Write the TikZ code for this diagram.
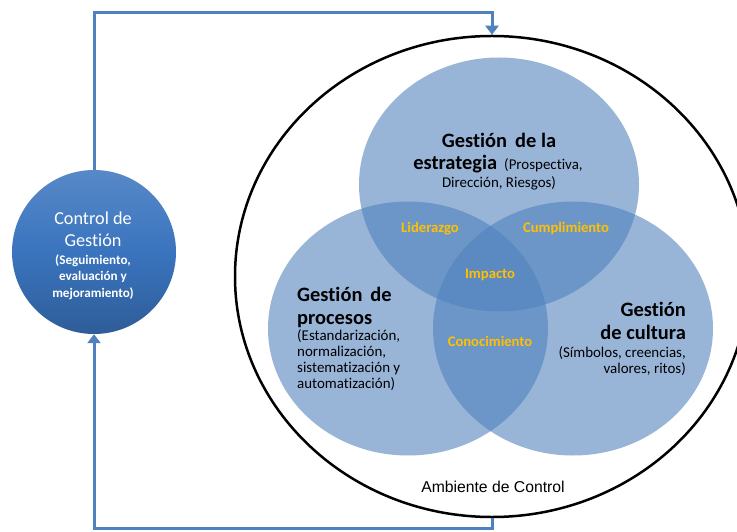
\documentclass[tikz,border=0pt]{standalone}
\usepackage{fontspec}
\setmainfont{Carlito}[Ligatures=NoCommon]
\newfontfamily\arialf{Liberation Sans}
\usetikzlibrary{shapes.geometric,arrows.meta}
\definecolor{flowblue}{HTML}{4F81BD}
\definecolor{vennblue}{HTML}{4F81BD}
\definecolor{ctrlblue}{HTML}{3A74BE}
\definecolor{lblgold}{HTML}{FFC000}
\tikzset{
  venn/.style={ellipse, fill=vennblue, fill opacity=0.58, draw=none, minimum width=280bp, minimum height=254bp, inner sep=0pt},
  flow/.style={draw=flowblue, line width=3bp, -{Triangle[width=13bp,length=9bp]}},
  big/.style={font=\fontsize{20.5}{22.5}\selectfont\bfseries, text=black, inner sep=0pt},
  small/.style={font=\fontsize{15}{15.8}\selectfont, text=black, inner sep=0pt},
  lbl/.style={font=\fontsize{14.7}{16}\selectfont\bfseries, text=lblgold},
}
\begin{document}
\begin{tikzpicture}[x=1bp,y=-1bp]
\clip (0,0) rectangle (737,532);
\fill[white] (0,0) rectangle (737,532);
% outer environment
\node[ellipse, draw=black, line width=2.5bp, minimum width=514bp, minimum height=481bp, inner sep=0pt] (amb) at (492,276.5) {};
% venn
\node[venn] (est) at (499,184.5) {};
\node[venn] (pro) at (408,328.5) {};
\node[venn] (cul) at (573,328.5) {};
% control circle
\node[circle, minimum size=164bp, inner sep=0pt, top color=ctrlblue!85!white, bottom color=ctrlblue!80!black, middle color=ctrlblue] (ctrl) at (94,252) {};
\node[text=white, align=center, font=\fontsize{18.3}{22}\selectfont, inner sep=0pt] (ctrlt) at (93,229) {Control de\\Gestión};
\node[text=white, align=center, font=\fontsize{13.2}{16.5}\selectfont\bfseries, inner sep=0pt] (ctrls) at (93,277) {(Seguimiento,\\evaluación y\\mejoramiento)};
% connectors
\coordinate (topy) at (0,13);
\coordinate (boty) at (0,528);
\draw[flow] (ctrl.north) -- (ctrl.north |- topy) -| (amb.north);
\draw[flow] (amb.south) -- (amb.south |- boty) -| (ctrl.south);
% texts
\node[big, anchor=base] (t1) at (499,148) {Gestión\, de la};
\node[anchor=base, inner sep=0pt] (t2) at (498,170) {{\fontsize{20.5}{22}\selectfont\bfseries estrategia}\hspace{7bp}{\fontsize{15}{16}\selectfont(Prospectiva,}};
\node[small, anchor=base] (t3) at (499,188) {Dirección, Riesgos)};
\node[big, anchor=base west, align=left] (p1) at (297,324) {Gestión\, de\\procesos};
\node[small, anchor=base west, align=left] (p2) at (297,388) {(Estandarización,\\normalización,\\sistematización y\\automatización)};
\node[big, anchor=base east, align=right] (c1) at (686,339) {Gestión\\de cultura};
\node[small, anchor=base east, align=right] (c2) at (686,373) {(Símbolos, creencias,\\valores, ritos)};
\node[lbl] (l1) at (430,229) {Liderazgo};
\node[lbl] (l2) at (566,229) {Cumplimiento};
\node[lbl] (l3) at (490,275) {Impacto};
\node[lbl] (l4) at (490,341) {Conocimiento};
\node[font=\arialf\fontsize{15.8}{17}\selectfont, text=black] (amt) at (493,487) {Ambiente de Control};
\end{tikzpicture}
\end{document}
